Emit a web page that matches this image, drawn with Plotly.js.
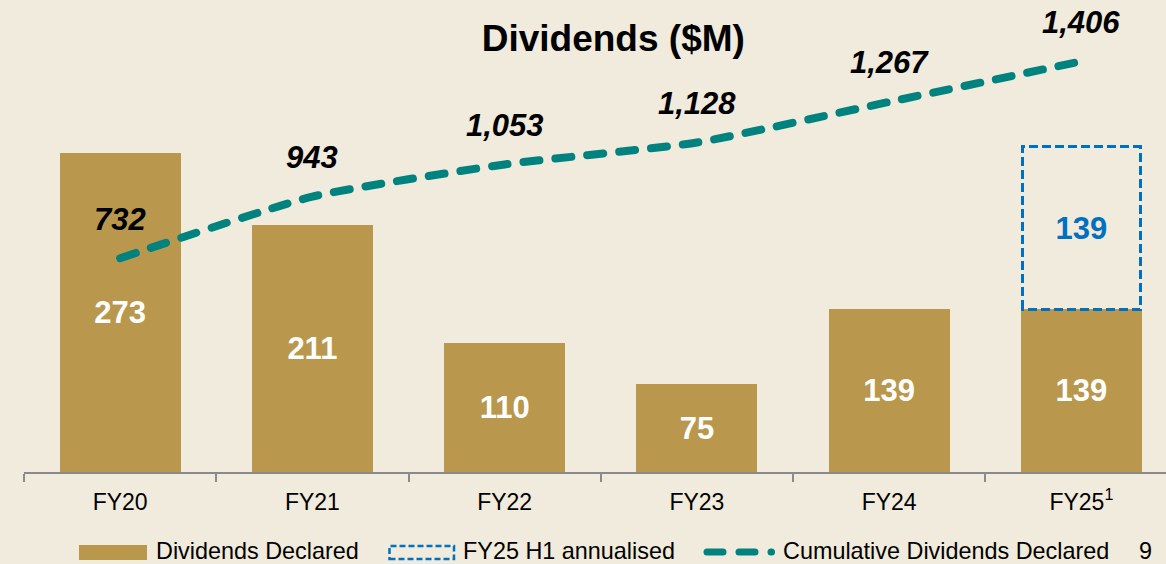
<!DOCTYPE html>
<html>
<head>
<meta charset="utf-8">
<script src="https://cdn.plot.ly/plotly-3.0.1.min.js"></script>
<style>
html,body{margin:0;padding:0;background:#F0EBDC;}
#chart{width:1166px;height:564px;}
.barlayer .trace:nth-child(2) .point path{stroke-dasharray:9px 4px;}
.scatterlayer path.js-line{stroke-linecap:round !important;}
.shapelayer path[data-index="2"]{stroke-linecap:round !important;}
</style>
</head>
<body>
<div id="chart"></div>
<script>
var categories = ['FY20', 'FY21', 'FY22', 'FY23', 'FY24', 'FY25'];
var tickLabels = ['FY20', 'FY21', 'FY22', 'FY23', 'FY24', 'FY25<sup>1</sup>'];
var dividendsDeclared = [273, 211, 110, 75, 139, 139];
var h1Categories = ['FY25'];
var h1Annualised = [139];
var cumulativeDividends = [732, 943, 1053, 1128, 1267, 1406];
var seriesNames = ['Dividends Declared', 'FY25 H1 annualised', 'Cumulative Dividends Declared'];

var font = 'Liberation Sans, Arial, sans-serif';
var barColor = '#B9974D';
var blue = '#0070C0';
var teal = '#00837F';

// plot area in pixels: left 24, right 1166, top 40, bottom 472
var L = 24, W = 1142, T = 40, H = 432;
function px(x) { return (x - L) / W; }
function py(y) { return (T + H - y) / H; }

var traces = [
  {
    type: 'bar', name: seriesNames[0],
    x: categories, y: dividendsDeclared,
    text: dividendsDeclared.map(String),
    textposition: 'inside', insidetextanchor: 'middle', constraintext: 'none',
    textfont: {family: font, size: 31, color: '#FFFFFF', weight: 'bold'},
    marker: {color: barColor, line: {width: 0}},
    width: 0.63, hoverinfo: 'skip', showlegend: false
  },
  {
    type: 'bar', name: seriesNames[1],
    x: h1Categories, y: h1Annualised,
    text: h1Annualised.map(String),
    textposition: 'inside', insidetextanchor: 'middle', constraintext: 'none',
    textfont: {family: font, size: 31, color: blue, weight: 'bold'},
    marker: {color: 'rgba(0,0,0,0)', line: {color: blue, width: 3}},
    width: 0.61, hoverinfo: 'skip', showlegend: false
  },
  {
    type: 'scatter', mode: 'lines', name: seriesNames[2],
    x: categories, y: cumulativeDividends, yaxis: 'y2',
    line: {color: teal, width: 8, dash: '16px,16px', shape: 'spline', smoothing: 0.5},
    hoverinfo: 'skip', showlegend: false
  }
];

var annotations = cumulativeDividends.map(function (v, i) {
  return {
    x: categories[i], y: v, xref: 'x', yref: 'y2',
    text: '<i>' + v.toLocaleString('en-US') + '</i>',
    showarrow: false, yshift: 39,
    font: {family: font, size: 31, color: '#000000', weight: 'bold'}
  };
});

var legendFont = {family: font, size: 23.4, color: '#000000'};
var legendY = py(550.5);
var legendTextX = [155, 462, 782];
seriesNames.forEach(function (n, i) {
  annotations.push({
    xref: 'paper', yref: 'paper', x: px(legendTextX[i]), y: legendY, borderpad: 0,
    xanchor: 'left', yanchor: 'middle', text: n, showarrow: false, font: legendFont
  });
});
annotations.push({
  xref: 'paper', yref: 'paper', x: px(1145), y: legendY, xanchor: 'center', yanchor: 'middle',
  borderpad: 0, text: '9', showarrow: false, font: legendFont
});

var shapes = [
  {type: 'rect', xref: 'paper', yref: 'paper', x0: px(79), x1: px(147), y0: py(560), y1: py(545),
   fillcolor: barColor, line: {width: 0}},
  {type: 'rect', xref: 'paper', yref: 'paper', x0: px(389.5), x1: px(454), y0: py(559), y1: py(546),
   fillcolor: 'rgba(0,0,0,0)', line: {color: blue, width: 2.5, dash: '6px,3px'}},
  {type: 'line', xref: 'paper', yref: 'paper', x0: px(707), x1: px(771.5), y0: py(552), y1: py(552),
   line: {color: teal, width: 7, dash: '16px,16px'}}
];

var layout = {
  width: 1166, height: 564,
  paper_bgcolor: '#F0EBDC', plot_bgcolor: 'rgba(0,0,0,0)',
  margin: {l: L, r: 0, t: T, b: 564 - T - H},
  barmode: 'stack',
  showlegend: false,
  title: {
    text: '<b>Dividends ($M)</b>', x: 0.526, xref: 'container', xanchor: 'center',
    y: 0.933, yref: 'container', yanchor: 'middle',
    font: {family: font, size: 37, color: '#000000'}
  },
  xaxis: {
    type: 'category', range: [-0.5, 5.44], categoryorder: 'array', categoryarray: categories,
    tickmode: 'array', tickvals: categories, ticktext: tickLabels,
    tickson: 'boundaries', ticks: 'outside', ticklen: 8, tickwidth: 2, tickcolor: '#8A8A8A',
    ticklabelstandoff: 8,
    showline: true, linecolor: '#8A8A8A', linewidth: 2,
    showgrid: false, zeroline: false,
    tickfont: {family: font, size: 23, color: '#000000'}
  },
  yaxis: {
    range: [0, 369.2], visible: false, showgrid: false, zeroline: false
  },
  yaxis2: {
    range: [0, 1479], overlaying: 'y', side: 'right', visible: false, showgrid: false, zeroline: false
  },
  annotations: annotations,
  shapes: shapes
};

Plotly.newPlot('chart', traces, layout, {displayModeBar: false, staticPlot: true});
</script>
</body>
</html>
